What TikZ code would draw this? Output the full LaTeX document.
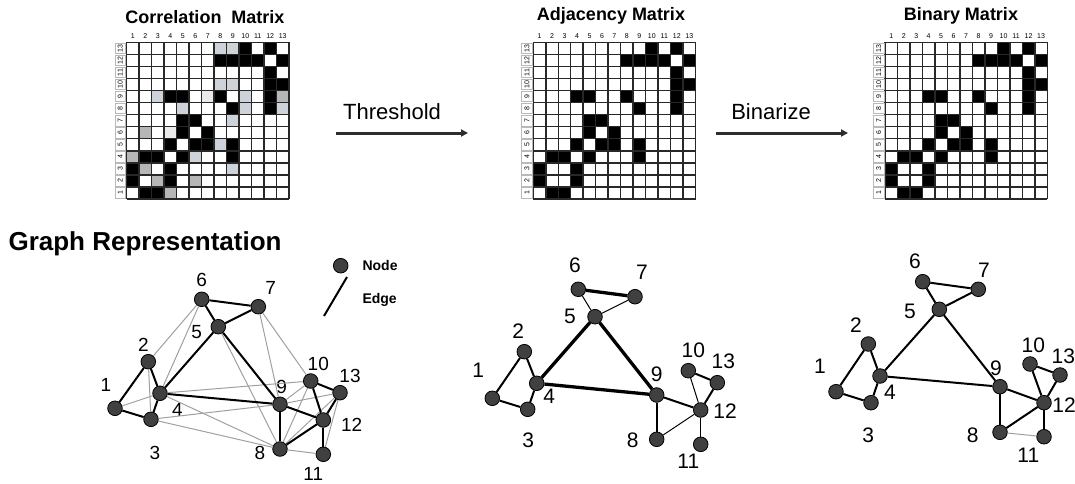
\documentclass[tikz,border=0pt]{standalone}
\usepackage{fontspec}
\setmainfont{Liberation Sans}
\usepackage{tikz}
\usetikzlibrary{arrows.meta,backgrounds}
\definecolor{nodegray}{RGB}{64,64,64}
\definecolor{edgegray}{RGB}{160,160,160}
\definecolor{celllight}{RGB}{206,211,217}
\definecolor{cellmid}{RGB}{182,182,182}
\definecolor{cellpale}{RGB}{234,234,234}
\definecolor{arrowgray}{RGB}{45,45,45}
\definecolor{gridgray}{RGB}{40,40,40}

\begin{document}
\begin{tikzpicture}[
    x=1pt, y=-1pt,
    title/.style={font=\bfseries\fontsize{18}{20}\selectfont, anchor=base},
    bigtitle/.style={font=\bfseries\fontsize{26}{28}\selectfont, anchor=base west},
    steplabel/.style={font=\fontsize{22}{24}\selectfont, anchor=base},
    legend/.style={font=\bfseries\fontsize{14}{16}\selectfont, anchor=west},
    collab/.style={font=\fontsize{7}{7}\selectfont, inner sep=0pt},
    rowlab/.style={font=\fontsize{7}{7}\selectfont, inner sep=0pt, rotate=90},
    rowbox/.style={draw=gray!55, line width=0.6pt},
    gridline/.style={line width=1.5pt, gridgray},
    vtx/.style={circle, draw=black, fill=nodegray, line width=0.8pt, minimum size=14.6pt, inner sep=0pt},
    num/.style={font=\fontsize{19}{20}\selectfont, inner sep=0pt},
    numb/.style={font=\fontsize{21}{22}\selectfont, inner sep=0pt},
    strong/.style={line width=2pt},
    weak/.style={line width=1pt, edgegray},
    heavy/.style={line width=3.3pt},
    light/.style={line width=1pt},
    flow/.style={-{Triangle[length=7pt,width=7pt]}, line width=3pt, arrowgray}
]
\useasboundingbox (0,0) rectangle (1075,484);

% ============ matrices ============
\node[title] (title-cor) at (205,24) {Correlation~~Matrix};
\node[title] (title-adj) at (611,20.7) {Adjacency Matrix};
\node[title] (title-bin) at (961,20.7) {Binary Matrix};

% gray cells only in the correlation matrix
\foreach \r/\c/\tone in {13/8/celllight, 13/9/celllight, 10/8/celllight, 10/9/celllight,
    9/3/celllight, 9/7/cellpale, 9/10/celllight, 9/13/cellmid, 8/5/celllight, 8/10/celllight,
    8/13/celllight, 7/9/celllight, 6/2/cellmid, 6/4/cellpale, 5/8/celllight, 4/1/cellmid,
    4/6/celllight, 3/2/cellmid, 3/9/celllight, 2/3/cellmid, 2/6/cellmid, 1/4/cellmid}
    \fill[\tone] ({126.7+(\c-1)*12.48},{42.3+(13-\r)*12.05}) rectangle ++(12.48,12.05);

\foreach \mx/\mn in {126.7/cor, 533.3/adj, 885/bin} {
    \foreach \r/\c in {13/10, 13/12, 12/8, 12/9, 12/10, 12/11, 12/13, 11/12, 10/12, 10/13,
        9/4, 9/5, 9/8, 9/12, 8/9, 8/12, 7/5, 7/6, 6/5, 6/7, 5/4, 5/6, 5/7, 5/9,
        4/2, 4/3, 4/5, 4/9, 3/1, 3/4, 2/1, 2/4, 1/2, 1/3}
        \fill ({\mx+(\c-1)*12.48},{42.3+(13-\r)*12.05}) rectangle ++(12.48,12.05);
    \foreach \i in {0,...,13} {
        \draw[gridline] ({\mx+\i*12.48},42.3) -- ({\mx+\i*12.48},198.95);
        \draw[gridline] (\mx,{42.3+\i*12.05}) -- ({\mx+162.24},{42.3+\i*12.05});
    }
    \foreach \i in {1,...,13} {
        \node[collab] (\mn-c\i) at ({\mx+(\i-0.5)*12.48},36) {\i};
        \draw[rowbox] ({\mx-11.8},{42.3+(13-\i)*12.05+0.8}) rectangle ({\mx-1},{42.3+(14-\i)*12.05-0.8});
        \node[rowlab] (\mn-r\i) at ({\mx-6.4},{42.3+(13.5-\i)*12.05}) {\i};
    }
}

% ============ steps ============
\coordinate (thr-start) at (336,133);
\coordinate (thr-end) at (468,133);
\draw[flow] (thr-start) -- (thr-end);
\node[steplabel] (thr-text) at (392,120) {Threshold};

\coordinate (bin-start) at (716,133);
\coordinate (bin-end) at (848,133);
\draw[flow] (bin-start) -- (bin-end);
\node[steplabel] (bin-text) at (771,119) {Binarize};

% ============ graphs ============
\node[bigtitle] (graph-title) at (5,250) {Graph Representation};

\node[vtx] (leg-node) at (340.7,265.7) {};
\node[legend] (leg-node-text) at (359,265) {Node};
\coordinate (leg-e1) at (347,277);
\coordinate (leg-e2) at (324,316);
\draw[strong] (leg-e1) -- (leg-e2);
\node[legend] (leg-edge-text) at (359,300) {Edge};

% correlation graph
\foreach \n/\x/\y/\lx/\ly in {1/115/408.3/106/385, 2/148.3/361.7/143.3/345, 3/151/419.3/155/453.3,
    4/160/393.3/177.3/410, 5/218.3/326.7/196.7/331.7, 6/201.7/299.3/201.7/280,
    7/258.3/306.7/270.7/288.3, 8/280/449/260/453.3, 9/280/404.3/281.7/387.3,
    10/310.7/381/318.3/364.3, 11/323.3/454.3/313.3/474.3, 12/323.3/420/351.7/425,
    13/340/392.7/350/376} {
    \node[vtx] (cor-\n) at (\x,\y) {};
    \node[num] (cor-\n-l) at (\lx,\ly) {\n};
}
\foreach \a/\b in {1/4, 2/3, 2/6, 4/6, 3/9, 3/8, 4/8, 4/10, 5/8, 7/9, 7/10,
    8/10, 8/13, 8/11, 9/10, 9/13, 11/13}
    \draw[weak] (cor-\a) -- (cor-\b);
\foreach \a/\b in {1/2, 1/3, 2/4, 3/4, 4/5, 4/9, 5/6, 5/7, 6/7, 5/9, 8/9,
    8/12, 9/12, 10/12, 10/13, 11/12, 12/13}
    \draw[strong] (cor-\a) -- (cor-\b);

% adjacency graph
\foreach \n/\x/\y/\lx/\ly in {1/492.3/398.3/478.3/370, 2/524.3/351.7/518.3/330.7, 3/527.7/409.3/528.3/440,
    4/536.7/383.3/549.3/396.7, 5/595/316.7/570/316.7, 6/578.3/289.3/575/265,
    7/635/296.7/642/272, 8/656.7/439.3/632.7/440, 9/656.7/395/656.7/374,
    10/688.3/370.7/693.3/350, 11/700.7/444.3/688.3/461.7, 12/700.7/410/725/410.7,
    13/717.3/382.7/723.3/361.7} {
    \node[vtx] (adj-\n) at (\x,\y) {};
    \node[numb] (adj-\n-l) at (\lx,\ly) {\n};
}
\foreach \a/\b in {4/5, 4/9, 5/9, 6/7}
    \draw[heavy] (adj-\a) -- (adj-\b);
\foreach \a/\b in {1/2, 1/3, 2/4, 3/4, 9/8, 9/12, 10/13, 13/12}
    \draw[strong] (adj-\a) -- (adj-\b);
\foreach \a/\b in {5/6, 5/7, 8/12, 10/12, 12/11}
    \draw[light] (adj-\a) -- (adj-\b);

% binary graph
\foreach \n/\x/\y/\lx/\ly in {1/836/391.7/820/366, 2/868.3/344/856/325, 3/871/402.7/868.3/435,
    4/880/376/890/392.7, 5/939.3/309.3/910/311.7, 6/922.7/281.7/915/261,
    7/978.3/289.3/984/270, 8/1000/432.3/972.7/435, 9/1000/386.7/996/368.3,
    10/1030/364/1033.3/345, 11/1044/436.7/1028.3/455, 12/1044/402.7/1064/405,
    13/1060/375/1063.3/356.7} {
    \node[vtx] (bin-\n) at (\x,\y) {};
    \node[numb] (bin-\n-l) at (\lx,\ly) {\n};
}
\foreach \a/\b in {1/2, 1/3, 2/4, 3/4, 4/5, 4/9, 5/9, 5/6, 5/7, 6/7, 9/8,
    9/12, 8/12, 10/12, 10/13, 13/12, 12/11}
    \draw[strong] (bin-\a) -- (bin-\b);
\draw[weak] (bin-8) -- (bin-11);

\end{tikzpicture}
\end{document}
